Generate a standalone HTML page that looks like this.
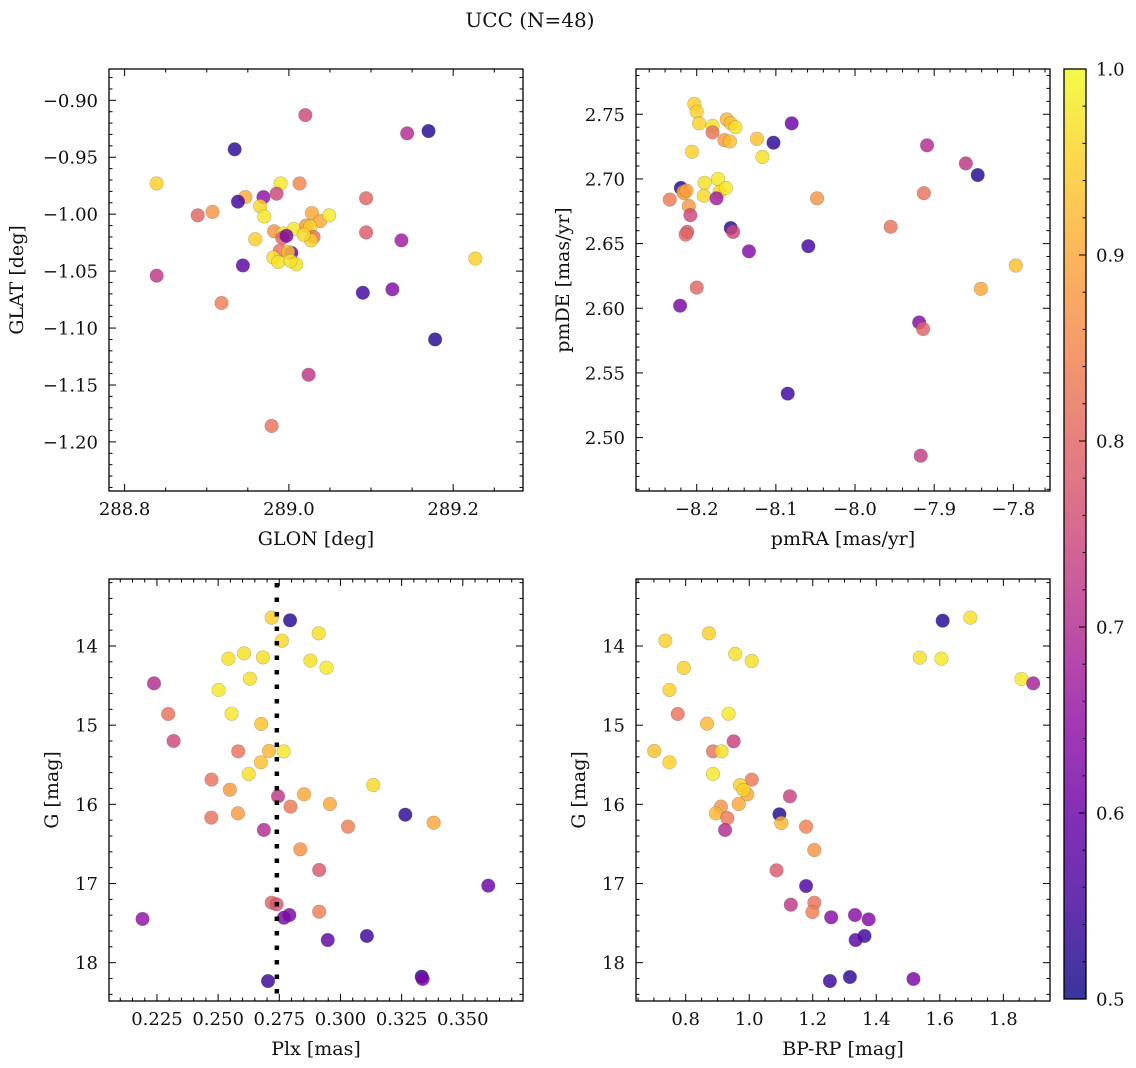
<!DOCTYPE html>
<html><head><meta charset="utf-8"><style>
html,body{margin:0;padding:0;background:#fff;}
svg{display:block;font-family:"DejaVu Serif","Liberation Serif",serif;}
</style></head><body>
<svg id="fig" width="1136" height="1068" viewBox="0 0 1136 1068" xmlns="http://www.w3.org/2000/svg">
<defs>
<linearGradient id="cbg" x1="0" y1="1" x2="0" y2="0"></linearGradient>
</defs>
<text x="530" y="27" font-size="20" text-anchor="middle" fill="#111">UCC (N=48)</text>
</svg>
<script>
// ---- data (probability values in [0.5,1]) ----
const glon = [289.020,289.144,289.170,288.934,288.839,288.990,289.013,289.094,288.947,288.938,288.969,288.985,288.889,288.907,288.965,288.970,289.028,289.038,289.049,288.982,288.993,289.006,289.021,289.026,289.030,289.027,288.992,288.997,288.959,289.094,289.137,289.227,288.944,288.989,289.003,288.999,288.981,288.987,289.009,288.839,288.918,289.090,289.126,289.178,289.024,288.979,289.002,289.018];
const glat = [-0.913,-0.929,-0.927,-0.943,-0.973,-0.973,-0.973,-0.986,-0.985,-0.989,-0.985,-0.982,-1.001,-0.998,-0.993,-1.002,-0.999,-1.006,-1.001,-1.015,-1.017,-1.013,-1.010,-1.011,-1.020,-1.023,-1.021,-1.019,-1.022,-1.016,-1.023,-1.039,-1.045,-1.032,-1.034,-1.033,-1.038,-1.042,-1.044,-1.054,-1.078,-1.069,-1.066,-1.110,-1.141,-1.186,-1.041,-1.018];
const probA = [0.75,0.70,0.52,0.53,0.95,0.98,0.85,0.80,0.90,0.55,0.65,0.75,0.80,0.87,0.96,0.98,0.90,0.90,0.98,0.87,0.97,0.98,0.88,0.95,0.82,0.95,0.80,0.62,0.95,0.78,0.67,0.95,0.58,0.82,0.60,0.93,0.97,0.97,0.97,0.72,0.84,0.55,0.63,0.52,0.72,0.82,0.97,0.96];

const pmra = [-8.203,-8.200,-8.197,-8.180,-8.180,-8.162,-8.157,-8.151,-8.165,-8.158,-8.124,-8.117,-8.103,-8.080,-8.206,-7.909,-7.860,-7.845,-8.220,-8.217,-8.216,-8.234,-8.190,-8.173,-8.171,-8.163,-8.191,-8.175,-8.048,-7.913,-8.210,-8.208,-8.212,-8.214,-8.157,-8.154,-8.134,-8.059,-7.955,-8.200,-8.221,-7.797,-7.841,-7.919,-7.914,-8.085,-7.917,-8.213];
const pmde = [2.758,2.752,2.743,2.741,2.736,2.746,2.743,2.740,2.730,2.729,2.731,2.717,2.728,2.743,2.721,2.726,2.712,2.703,2.693,2.690,2.689,2.684,2.697,2.700,2.690,2.693,2.687,2.685,2.685,2.689,2.679,2.672,2.659,2.657,2.662,2.659,2.644,2.648,2.663,2.616,2.602,2.633,2.615,2.589,2.584,2.534,2.486,2.691];
const probB = [0.95,0.95,0.95,0.97,0.82,0.92,0.93,0.97,0.88,0.93,0.93,0.97,0.53,0.60,0.95,0.70,0.72,0.52,0.52,0.88,0.90,0.83,0.97,0.98,0.95,0.98,0.96,0.67,0.87,0.82,0.88,0.75,0.77,0.80,0.53,0.75,0.63,0.55,0.82,0.80,0.62,0.93,0.90,0.63,0.80,0.55,0.73,0.89];

const plx = [0.2719,0.2794,0.2911,0.2761,0.2542,0.2606,0.2683,0.2877,0.2943,0.2630,0.2238,0.2502,0.2296,0.2555,0.2676,0.2318,0.2582,0.2708,0.2768,0.2675,0.2625,0.2473,0.2548,0.2745,0.2851,0.3134,0.2796,0.2957,0.2472,0.2581,0.3265,0.3381,0.3031,0.2687,0.2836,0.2913,0.3604,0.2719,0.2739,0.2913,0.2191,0.2791,0.2769,0.2948,0.3108,0.3332,0.3336,0.2704];
const gmagC = [13.642,13.676,13.840,13.933,14.160,14.093,14.143,14.185,14.274,14.413,14.472,14.556,14.859,14.855,14.985,15.200,15.331,15.326,15.331,15.469,15.617,15.688,15.815,15.899,15.874,15.756,16.029,15.996,16.168,16.114,16.131,16.232,16.282,16.324,16.568,16.829,17.027,17.242,17.263,17.356,17.448,17.398,17.432,17.714,17.663,18.177,18.206,18.232];
const probC = [0.95,0.52,0.97,0.96,0.97,0.97,0.97,0.97,0.98,0.97,0.70,0.98,0.82,0.98,0.93,0.75,0.82,0.92,0.98,0.93,0.97,0.82,0.88,0.72,0.90,0.96,0.83,0.90,0.82,0.88,0.53,0.90,0.84,0.70,0.87,0.78,0.60,0.80,0.77,0.84,0.65,0.62,0.62,0.58,0.54,0.52,0.62,0.54];
const plxRef = [0.2740];

const bprp = [1.609,1.696,0.873,0.736,0.956,1.008,1.537,1.605,0.794,0.749,1.857,1.894,0.775,0.935,0.867,0.951,0.701,0.886,0.913,0.749,0.886,1.008,0.971,0.994,1.128,0.911,0.967,0.895,0.931,1.095,1.101,1.179,0.924,1.205,1.086,1.179,1.205,1.131,1.199,1.258,1.333,1.376,1.363,1.335,1.317,1.254,1.517,0.982];
const gmagD = [13.680,13.642,13.840,13.933,14.101,14.189,14.147,14.160,14.278,14.556,14.417,14.472,14.859,14.855,14.981,15.204,15.326,15.331,15.331,15.469,15.617,15.688,15.756,15.874,15.899,16.029,15.996,16.114,16.173,16.126,16.236,16.282,16.324,16.577,16.834,17.032,17.242,17.267,17.360,17.427,17.398,17.453,17.663,17.714,18.181,18.232,18.206,15.819];
const probD = [0.52,0.97,0.95,0.95,0.97,0.97,0.97,0.98,0.95,0.95,0.98,0.68,0.82,0.98,0.92,0.74,0.93,0.82,0.97,0.95,0.98,0.83,0.95,0.90,0.74,0.87,0.90,0.92,0.83,0.52,0.92,0.84,0.70,0.87,0.78,0.56,0.82,0.72,0.84,0.64,0.64,0.63,0.54,0.58,0.53,0.54,0.62,0.95];

const cbTicks = [0.5,0.6,0.7,0.8,0.9,1.0];

// ---- colormap ----
const PL = ["#0d0887","#41049d","#6a00a8","#8f0da4","#b12a90","#cc4778","#e16462","#f2844b","#fca636","#fcce25","#f0f921"];
function hx(c){return [parseInt(c.slice(1,3),16),parseInt(c.slice(3,5),16),parseInt(c.slice(5,7),16)];}
function plasma(t){t=Math.max(0,Math.min(1,t));const f=t*10,i=Math.min(9,Math.floor(f)),u=f-i;const a=hx(PL[i]),b=hx(PL[i+1]);
return "rgb("+a.map((v,k)=>Math.round(v+(b[k]-v)*u)).join(",")+")";}
function cmap(p){return plasma((p-0.5)/0.5);}

const NS="http://www.w3.org/2000/svg";
const svg=document.getElementById("fig");
function el(tag,attrs,parent){const e=document.createElementNS(NS,tag);for(const k in attrs)e.setAttribute(k,attrs[k]);(parent||svg).appendChild(e);return e;}

function fmt(v,d){const s=Math.abs(v).toFixed(d);return (v<-1e-9?"\u2212":"")+s;}

const TFS=18, LFS=19;

function panel(cfg){
  const g=el("g",{});
  
  
  const X=v=>cfg.x0+(v-cfg.xmin)/(cfg.xmax-cfg.xmin)*(cfg.x1-cfg.x0);
  const Y=v=>cfg.y0+(v-cfg.ymin)/(cfg.ymax-cfg.ymin)*(cfg.y1-cfg.y0);
  const pts=el("g",{},g);
  
  
  for(let i=0;i<cfg.xs.length;i++){
    const c=el("circle",{cx:X(cfg.xs[i]),cy:Y(cfg.ys[i]),r:6.8,fill:cmap(cfg.ps[i]),"fill-opacity":0.82,stroke:"#555","stroke-opacity":0.35,"stroke-width":0.6},pts);
    
    
  }
  if(cfg.vline){
    const l=el("line",{x1:X(cfg.vline[0]),x2:X(cfg.vline[0]),y1:cfg.y0+4,y2:cfg.y1,stroke:"#000","stroke-width":4.5,"stroke-dasharray":"4.5 10"},g);
    
    
  }
  const fr=el("rect",{x:cfg.x0,y:cfg.y0,width:cfg.x1-cfg.x0,height:cfg.y1-cfg.y0,fill:"none",stroke:"#000","stroke-width":1.3},g);
  
  
  const tk=el("g",{stroke:"#000","stroke-width":1},g);
  const lo=Math.min(cfg.xmin,cfg.xmax),hi=Math.max(cfg.xmin,cfg.xmax);
  for(let k=Math.ceil(lo/cfg.xminor-1e-6);k*cfg.xminor<=hi+1e-9;k++){
    const v=k*cfg.xminor;const px=X(v);
    const major=Math.abs(v/cfg.xmajor-Math.round(v/cfg.xmajor))<1e-6;const L=major?7:3.5;
    el("line",{x1:px,x2:px,y1:cfg.y1,y2:cfg.y1-L},tk);el("line",{x1:px,x2:px,y1:cfg.y0,y2:cfg.y0+L},tk);
    if(major){const t=el("text",{x:px,y:cfg.y1+24,"font-size":TFS,"text-anchor":"middle",fill:"#111",stroke:"none"},g);t.textContent=fmt(v,cfg.xd);
      
      }
  }
  const ylo=Math.min(cfg.ymin,cfg.ymax),yhi=Math.max(cfg.ymin,cfg.ymax);
  for(let k=Math.ceil(ylo/cfg.yminor-1e-6);k*cfg.yminor<=yhi+1e-9;k++){
    const v=k*cfg.yminor;const py=Y(v);
    const major=Math.abs(v/cfg.ymajor-Math.round(v/cfg.ymajor))<1e-6;const L=major?7:3.5;
    el("line",{x1:cfg.x0,x2:cfg.x0+L,y1:py,y2:py},tk);el("line",{x1:cfg.x1,x2:cfg.x1-L,y1:py,y2:py},tk);
    if(major){const t=el("text",{x:cfg.x0-11,y:py+6.5,"font-size":TFS,"text-anchor":"end",fill:"#111",stroke:"none"},g);t.textContent=fmt(v,cfg.yd);
      
      }
  }
  const xl=el("text",{x:(cfg.x0+cfg.x1)/2,y:cfg.y1+54,"font-size":LFS,"text-anchor":"middle",fill:"#111"},g);xl.textContent=cfg.xlabel;
  
  
  const yx=cfg.ylx,yy=(cfg.y0+cfg.y1)/2;
  const yl=el("text",{x:yx,y:yy,"font-size":LFS,"text-anchor":"middle",fill:"#111",transform:`rotate(-90 ${yx} ${yy})`},g);yl.textContent=cfg.ylabel;
  
  
}

panel({name:"glon-glat-panel",x0:109,x1:523,y0:69,y1:491,xmin:288.781,xmax:289.285,ymin:-0.8725,ymax:-1.2431,
  xs:glon,ys:glat,ps:probA,xmajor:0.2,xminor:0.05,xd:1,ymajor:0.05,yminor:0.01,yd:2,xlabel:"GLON [deg]",ylabel:"GLAT [deg]",ylx:23});
panel({name:"pm-panel",x0:636,x1:1050,y0:69,y1:491,xmin:-8.2767,xmax:-7.7537,ymin:2.785,ymax:2.4587,
  xs:pmra,ys:pmde,ps:probB,xmajor:0.1,xminor:0.02,xd:1,ymajor:0.05,yminor:0.01,yd:2,xlabel:"pmRA [mas/yr]",ylabel:"pmDE [mas/yr]",ylx:569});
panel({name:"plx-g-panel",x0:109,x1:523,y0:579,y1:1001,xmin:0.2054,xmax:0.3746,ymin:13.154,ymax:18.484,
  xs:plx,ys:gmagC,ps:probC,xmajor:0.025,xminor:0.005,xd:3,ymajor:1,yminor:0.2,yd:0,xlabel:"Plx [mas]",ylabel:"G [mag]",ylx:58,vline:plxRef});
panel({name:"cmd-panel",x0:636,x1:1050,y0:579,y1:1001,xmin:0.6436,xmax:1.9469,ymin:13.154,ymax:18.484,
  xs:bprp,ys:gmagD,ps:probD,xmajor:0.2,xminor:0.05,xd:1,ymajor:1,yminor:0.2,yd:0,xlabel:"BP-RP [mag]",ylabel:"G [mag]",ylx:585});

// colorbar
const grad=document.getElementById("cbg");
for(let i=0;i<=20;i++){el("stop",{offset:(i/20),"stop-color":plasma(i/20),"stop-opacity":0.82},grad);}
const cb=el("g",{});


const cbx0=1064,cbx1=1086,cby0=69,cby1=999;
el("rect",{x:cbx0,y:cby0,width:cbx1-cbx0,height:cby1-cby0,fill:"url(#cbg)",stroke:"#000","stroke-width":1.3},cb);
const CY=v=>cby1-(v-0.5)/0.5*(cby1-cby0);
for(let k=25;k<=50;k++){const v=k*0.02;const py=CY(v);const major=(k%5===0);
  el("line",{x1:cbx1,x2:cbx1-(major?7:3.5),y1:py,y2:py,stroke:"#000","stroke-width":1},cb);}
cbTicks.forEach(v=>{const t=el("text",{x:cbx1+10,y:CY(v)+6.5,"font-size":TFS,fill:"#111"},cb);t.textContent=v.toFixed(1);
  
  });
</script>
</body></html>
